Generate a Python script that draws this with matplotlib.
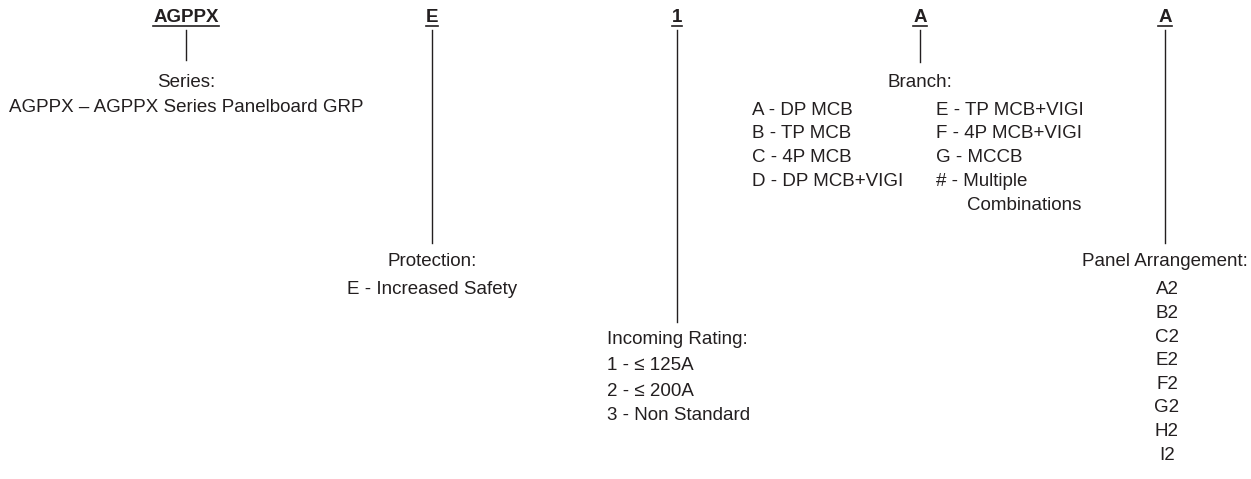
import matplotlib
matplotlib.use("Agg")
import matplotlib.pyplot as plt

plt.rcParams['font.family'] = ['Liberation Sans Narrow', 'Liberation Sans', 'DejaVu Sans']

ink = '#231f20'

# code letters along the top
codes = ['AGPPX', 'E', '1', 'A', 'A']
code_x = [186, 432, 677, 920, 1165]
stem_end = [60, 243, 322, 62, 243]

series_lines = ['Series:', 'AGPPX \u2013 AGPPX Series Panelboard GRP']
protection_lines = ['Protection:', 'E - Increased Safety']
rating_title = 'Incoming Rating:'
rating_lines = ['1 - \u2264 125A', '2 - \u2264 200A', '3 - Non Standard']
branch_title = 'Branch:'
branch_left = ['A - DP MCB', 'B - TP MCB', 'C - 4P MCB', 'D - DP MCB+VIGI']
branch_right = ['E - TP MCB+VIGI', 'F - 4P MCB+VIGI', 'G - MCCB', '# - Multiple']
branch_extra = 'Combinations'
panel_title = 'Panel Arrangement:'
panel_lines = ['A2', 'B2', 'C2', 'E2', 'F2', 'G2', 'H2', 'I2']

fig = plt.figure(figsize=(12.51, 4.79), dpi=100)
ax = fig.add_axes([0, 0, 1, 1])
ax.set_xlim(0, 1251)
ax.set_ylim(479, 0)
ax.axis('off')

fs = 13.5

heads = []
for c, x in zip(codes, code_x):
    t = ax.text(x, 17, c, ha='center', va='center', fontsize=fs, fontweight='bold', color=ink)
    heads.append(t)

for x, y1 in zip(code_x, stem_end):
    ax.plot([x, x], [30, y1], color=ink, lw=1)

# series
ax.text(code_x[0], 82, series_lines[0], ha='center', va='center', fontsize=fs, color=ink)
ax.text(code_x[0], 107, series_lines[1], ha='center', va='center', fontsize=fs, color=ink)

# protection
ax.text(code_x[1], 262, protection_lines[0], ha='center', va='center', fontsize=fs, color=ink)
ax.text(code_x[1], 290, protection_lines[1], ha='center', va='center', fontsize=fs, color=ink)

# incoming rating
ax.text(607, 340, rating_title, ha='left', va='center', fontsize=fs, color=ink)
for i, s in enumerate(rating_lines):
    ax.text(607, 366 + i * 25, s, ha='left', va='center', fontsize=fs, color=ink)

# branch
ax.text(code_x[3], 82, branch_title, ha='center', va='center', fontsize=fs, color=ink)
for i, s in enumerate(branch_left):
    ax.text(752, 110 + i * 24, s, ha='left', va='center', fontsize=fs, color=ink)
for i, s in enumerate(branch_right):
    ax.text(936, 110 + i * 24, s, ha='left', va='center', fontsize=fs, color=ink)
ax.text(967, 206, branch_extra, ha='left', va='center', fontsize=fs, color=ink)

# panel arrangement
ax.text(code_x[4], 262, panel_title, ha='center', va='center', fontsize=fs, color=ink)
for i, s in enumerate(panel_lines):
    ax.text(code_x[4] + 2, 290 + i * 23.6, s, ha='center', va='center', fontsize=fs, color=ink)

# underline the codes
fig.canvas.draw()
r = fig.canvas.get_renderer()
inv = ax.transData.inverted()
for t in heads:
    bb = t.get_window_extent(renderer=r)
    (x0, _), (x1, _) = inv.transform([(bb.x0, 0), (bb.x1, 0)])
    ax.plot([x0, x1], [26, 26], color=ink, lw=1.2)

fig.savefig('out.png', dpi=100, facecolor='white')
